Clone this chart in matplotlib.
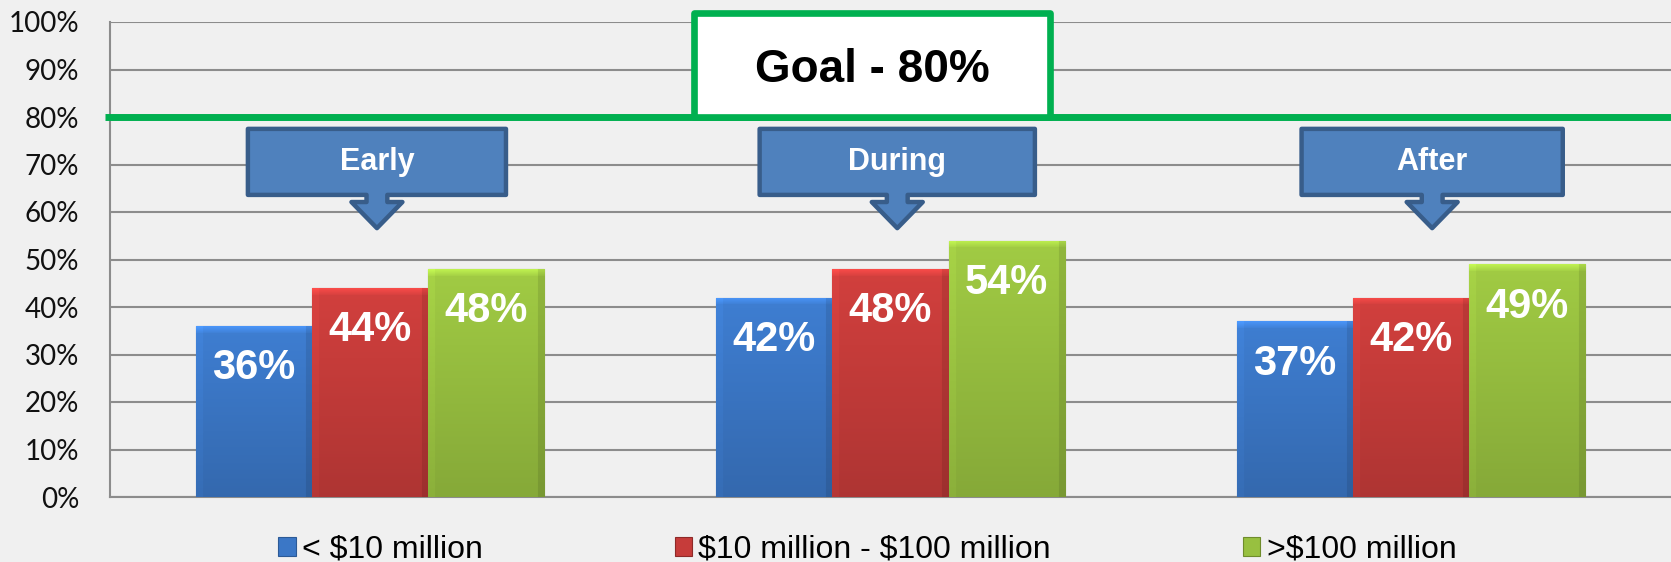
import numpy as np
import matplotlib.pyplot as plt
from matplotlib.patches import Polygon, Rectangle, Patch
from matplotlib.colors import to_rgb

# survey shares per project stage, split by project size
stages = ["Early", "During", "After"]
series = ["< $10 million", "$10 million - $100 million", ">$100 million"]
small_vals = [36, 42, 37]
mid_vals = [44, 48, 42]
large_vals = [48, 54, 49]
goal = 80
yticks = list(range(0, 101, 10))

colors = ["#3B77C6", "#C63C3A", "#98C040"]
edge_colors = ["#2C5A96", "#8E2A28", "#6F8C2C"]


def shade(color, rows, cols, bevel=7):
    """Simple bevelled gradient fill for one bar."""
    base = np.array(to_rgb(color))
    yy = np.linspace(1.06, 0.88, rows)[:, None]
    f = np.repeat(yy, cols, axis=1)
    b = min(bevel, rows // 3)
    f[:b, :] *= np.linspace(1.18, 1.04, b)[:, None]
    f[:, :bevel] *= 1.04
    f[:, -bevel:] *= 0.9
    img = np.clip(base[None, None, :] * f[:, :, None], 0, 1)
    return img


plt.rcParams["font.family"] = ["Liberation Sans", "DejaVu Sans"]
plt.rcParams["text.parse_math"] = False

fig = plt.figure(figsize=(16.71, 5.62), dpi=100, facecolor="#F0F0F0")
ax = fig.add_axes([110 / 1671, 65 / 562, 1561 / 1671, 475 / 562])
ax.set_facecolor("none")

x = np.arange(len(stages)) + 0.5
w = 0.223
px_per_unit_y = 475 / 100
px_per_unit_x = 1561 / 3

for i, (vals, col, ec) in enumerate(zip([small_vals, mid_vals, large_vals], colors, edge_colors)):
    bars = ax.bar(x + (i - 1) * w, vals, w, color=col, edgecolor=ec, linewidth=0.8, zorder=3)
    for bar, v in zip(bars, vals):
        x0 = bar.get_x()
        rows = max(int(v * px_per_unit_y), 10)
        cols = max(int(w * px_per_unit_x), 10)
        im = ax.imshow(shade(col, rows, cols), extent=[x0, x0 + w, 0, v], aspect="auto",
                       interpolation="bilinear", zorder=3.1)
        im.set_clip_path(bar)
        ax.annotate(f"{v}%", (x0 + w / 2, v), xytext=(0, -38.5), textcoords="offset points",
                    ha="center", va="baseline", fontsize=30, fontweight="bold", color="white",
                    zorder=4)

ax.set_xlim(0, 3)
ax.set_ylim(0, 100)
ax.set_yticks(yticks)
ax.set_yticklabels([f"{t}%" for t in yticks], fontsize=20, family=["Lato", "DejaVu Sans"],
                   color="#111111")
ax.set_xticks([])
ax.tick_params(axis="y", length=0, pad=22)
ax.grid(axis="y", color="#8C8C8C", linewidth=1.5, zorder=1)
ax.set_axisbelow(True)
for side in ["top", "right"]:
    ax.spines[side].set_visible(False)
ax.spines["left"].set_color("#8C8C8C")
ax.spines["left"].set_linewidth(1.5)
ax.spines["bottom"].set_color("#8C8C8C")
ax.spines["bottom"].set_linewidth(1.5)

# goal line with its label box
ax.plot([-0.01, 3], [goal, goal], color="#00B050", linewidth=5, zorder=5, clip_on=False,
        solid_capstyle="butt")
ax.add_patch(Rectangle((1.122, goal), 0.685, 21.9, facecolor="white", edgecolor="#00B050",
                       linewidth=4.8, zorder=6, clip_on=False, joinstyle="round"))
ax.text(1.466, 89.9, f"Goal - {goal}%", ha="center", va="center", fontsize=33,
        fontweight="bold", color="black", zorder=7)

# stage callouts pointing down at each group
callout_x = [0.513, 1.513, 2.541]
callout_w = [0.496, 0.529, 0.502]
box_top, box_bot, neck_bot, tip = 77.5, 63.6, 62.1, 56.6
neck_hw, head_hw = 0.02, 0.049
for name, cx, bw in zip(stages, callout_x, callout_w):
    hw = bw / 2
    pts = [(cx - hw, box_top), (cx + hw, box_top), (cx + hw, box_bot),
           (cx + neck_hw, box_bot), (cx + neck_hw, neck_bot), (cx + head_hw, neck_bot),
           (cx, tip), (cx - head_hw, neck_bot), (cx - neck_hw, neck_bot),
           (cx - neck_hw, box_bot), (cx - hw, box_bot)]
    ax.add_patch(Polygon(pts, closed=True, facecolor="#4F81BD", edgecolor="#385D8A",
                         linewidth=3.2, joinstyle="round", zorder=5))
    ax.text(cx, (box_top + box_bot) / 2, name, ha="center", va="center", fontsize=22,
            fontweight="bold", color="white", zorder=6)

handles = [Patch(facecolor=c, edgecolor=e, linewidth=0.8) for c, e in zip(colors, edge_colors)]
fig.legend(handles, series, loc="lower center", bbox_to_anchor=(0.519, -0.033), ncol=3,
           frameon=False, fontsize=23, handlelength=0.55, handleheight=0.55,
           handletextpad=0.2, columnspacing=6.0, borderpad=0)

fig.savefig("out.png", dpi=100, facecolor=fig.get_facecolor())
